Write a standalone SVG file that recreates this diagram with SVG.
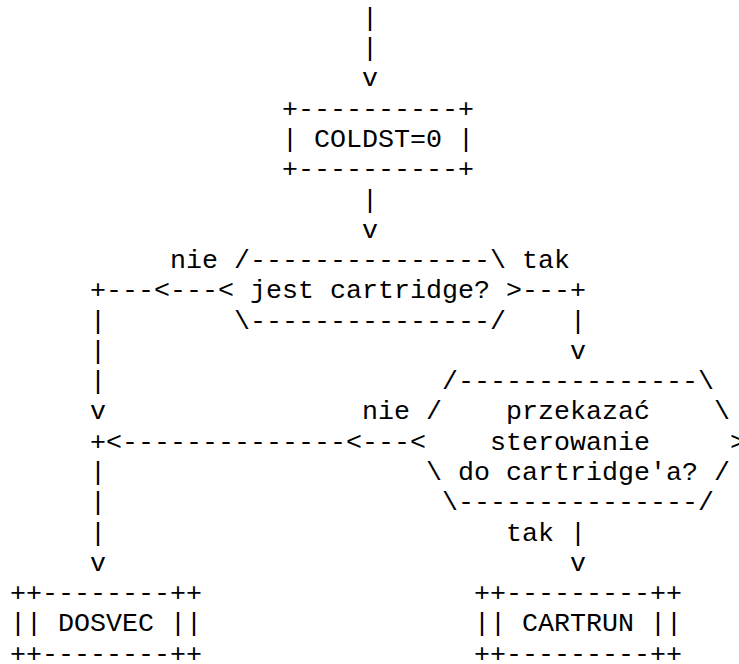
<svg xmlns="http://www.w3.org/2000/svg" width="739" height="664" viewBox="0 0 739 664" xml:space="preserve">
  <style>
    text { font-family: "Liberation Mono", "DejaVu Sans Mono", monospace; font-size: 26.67px; fill: #000; white-space: pre; }
  </style>
  <rect width="739" height="664" fill="#fff"/>

  <!-- connectors: flow lines, arrow tips and branch labels (monospace grid: x = 10 + col*16) -->
  <g id="connectors">
    <text x="362" y="25.8">|</text>
    <text x="362" y="56.1">|</text>
    <text x="362" y="86.4">v</text>
    <text x="362" y="207.5">|</text>
    <text x="362" y="237.8">v</text>
    <text x="170" y="268.0">nie</text>
    <text x="522" y="268.0">tak</text>
    <text x="90" y="298.3">+---&lt;---</text>
    <text x="522" y="298.3">---+</text>
    <text x="90" y="328.6">|</text>
    <text x="570" y="328.6">|</text>
    <text x="90" y="358.9">|</text>
    <text x="570" y="358.9">v</text>
    <text x="90" y="389.2">|</text>
    <text x="90" y="419.4">v</text>
    <text x="362" y="419.4">nie</text>
    <text x="90" y="449.7">+&lt;--------------&lt;---</text>
    <text x="90" y="480.0">|</text>
    <text x="90" y="510.3">|</text>
    <text x="90" y="540.6">|</text>
    <text x="506" y="540.6">tak</text>
    <text x="570" y="540.6">|</text>
    <text x="90" y="570.8">v</text>
    <text x="570" y="570.8">v</text>
  </g>

  <!-- process box -->
  <g id="coldst">
    <text x="282" y="116.6">+----------+</text>
    <text x="282" y="146.9">| COLDST=0 |</text>
    <text x="282" y="177.2">+----------+</text>
  </g>

  <!-- first decision -->
  <g id="jest-cartridge">
    <text x="234" y="268.0">/---------------\</text>
    <text x="218" y="298.3">&lt; jest cartridge? &gt;</text>
    <text x="234" y="328.6">\---------------/</text>
  </g>

  <!-- second decision -->
  <g id="przekazac-sterowanie">
    <text x="442" y="389.2">/---------------\</text>
    <text x="426" y="419.4">/    przekazać    \</text>
    <text x="410" y="449.7">&lt;    sterowanie     &gt;</text>
    <text x="426" y="480.0">\ do cartridge'a? /</text>
    <text x="442" y="510.3">\---------------/</text>
  </g>

  <!-- end boxes -->
  <g id="dosvec">
    <text x="10" y="601.1">++--------++</text>
    <text x="10" y="631.4">|| DOSVEC ||</text>
    <text x="10" y="661.7">++--------++</text>
  </g>
  <g id="cartrun">
    <text x="474" y="601.1">++---------++</text>
    <text x="474" y="631.4">|| CARTRUN ||</text>
    <text x="474" y="661.7">++---------++</text>
  </g>
</svg>
